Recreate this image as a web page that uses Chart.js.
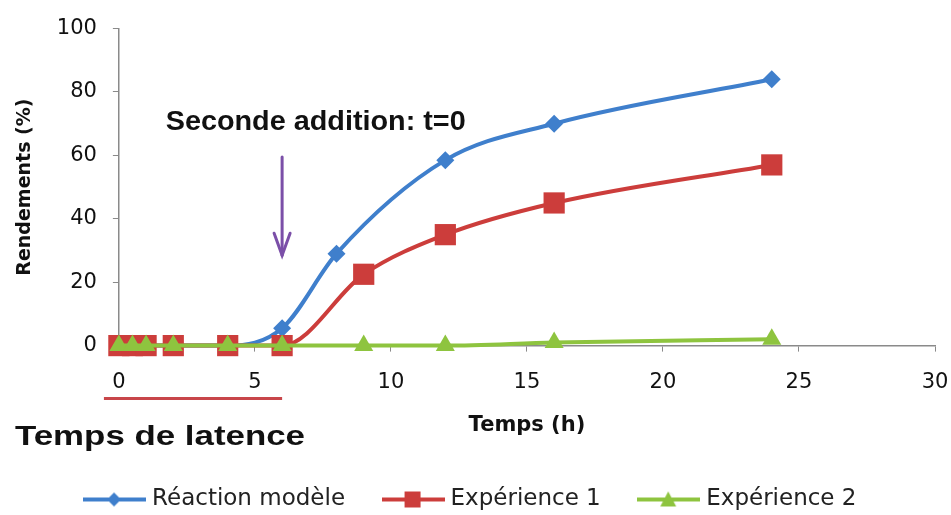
<!DOCTYPE html>
<html>
<head>
<meta charset="utf-8">
<script src="https://cdn.jsdelivr.net/npm/chart.js@4/dist/chart.umd.min.js"></script>
<style>
  html, body { margin: 0; padding: 0; background: #fff; }
  #wrap { width: 951px; height: 515px; position: relative; }
</style>
</head>
<body>
<div id="wrap"><canvas id="chart"></canvas></div>
<script>
// time points (h) and yields (%)
const tModele = [0, 0.5, 1, 2, 4, 6, 8, 12, 16, 24];
const yModele = [0, 0, 0, 0, 0, 5.5, 29, 58.5, 70, 84];
const tExp1 = [0, 0.5, 1, 2, 4, 6, 9, 12, 16, 24];
const yExp1 = [0, 0, 0, 0, 0, 0, 22.5, 35, 45, 57];
const tExp2 = [0, 0.5, 1, 2, 4, 6, 9, 12, 16, 24];
const yExp2 = [0, 0, 0, 0, 0, 0, 0, 0, 1, 2];

const seriesNames = ['Réaction modèle', 'Expérience 1', 'Expérience 2'];
const colors = ['#3f7fcc', '#cc3d3b', '#8ec43f'];

const FONT = '"DejaVu Sans", sans-serif';
const BOLD = '"Liberation Sans", Arial, sans-serif';

function pts(xs, ys) { return xs.map((x, i) => ({ x, y: ys[i] })); }

// legend swatch: line with the marker in the middle
function swatch(color, style) {
    const c = document.createElement('canvas');
    c.width = 63; c.height = 20;
    const g = c.getContext('2d');
    g.strokeStyle = color; g.lineWidth = 4;
    g.beginPath(); g.moveTo(0, 10); g.lineTo(63, 10); g.stroke();
    g.fillStyle = color;
    g.beginPath();
    if (style === 'rectRot') { g.moveTo(31, 3); g.lineTo(38, 10); g.lineTo(31, 17); g.lineTo(24, 10); }
    else if (style === 'rect') { g.rect(23, 2, 16, 16); }
    else { g.moveTo(31, 2); g.lineTo(39, 17); g.lineTo(23, 17); }
    g.closePath(); g.fill();
    return c;
}

// bold text squeezed/stretched to a given width
function wideText(ctx, text, left, cy, width) {
    const w = ctx.measureText(text).width;
    ctx.save();
    ctx.translate(left, cy);
    ctx.scale(width / w, 1);
    ctx.fillText(text, 0, 0);
    ctx.restore();
}

const annotations = {
    id: 'annotations',
    afterDatasetsDraw(chart) {
        const { ctx, scales: { x, y }, chartArea } = chart;
        ctx.save();
        ctx.font = 'bold 27px ' + BOLD;
        ctx.fillStyle = '#111';
        ctx.textBaseline = 'middle';
        ctx.textAlign = 'left';
        wideText(ctx, 'Seconde addition: t=0', x.getPixelForValue(1.72), y.getPixelForValue(70.5), 300);
        // purple arrow at t = 6 h
        const ax = x.getPixelForValue(6);
        const y0 = y.getPixelForValue(59.5), y1 = y.getPixelForValue(28.5);
        ctx.strokeStyle = '#7b4fa8'; ctx.lineWidth = 3; ctx.lineCap = 'round';
        ctx.beginPath(); ctx.moveTo(ax, y0); ctx.lineTo(ax, y1); ctx.stroke();
        ctx.beginPath(); ctx.moveTo(ax - 8, y1 - 22); ctx.lineTo(ax, y1); ctx.lineTo(ax + 8, y1 - 22); ctx.stroke();
        // latency period underline
        const by = chartArea.bottom + 53;
        ctx.strokeStyle = '#c8464a'; ctx.lineWidth = 3; ctx.lineCap = 'butt';
        ctx.beginPath(); ctx.moveTo(x.getPixelForValue(-0.55), by); ctx.lineTo(ax, by); ctx.stroke();
        wideText(ctx, 'Temps de latence', 15, by + 39, 290);
        ctx.restore();
    }
};

const styles = ['rectRot', 'rect', 'triangle'];
const radii = [9, 15, 11];
const data = [pts(tModele, yModele), pts(tExp1, yExp1), pts(tExp2, yExp2)];

new Chart(document.getElementById('chart'), {
    type: 'line',
    data: {
        datasets: data.map((d, i) => ({
            label: seriesNames[i],
            data: d,
            borderColor: colors[i],
            backgroundColor: colors[i],
            borderWidth: 4,
            tension: 0.4,
            cubicInterpolationMode: 'monotone',
            pointStyle: styles[i],
            pointRadius: radii[i],
            pointBorderWidth: 0,
            clip: false,
            order: 3 - i,
        })),
    },
    options: {
        responsive: true, maintainAspectRatio: false, animation: false,
        layout: { padding: { top: 16, right: 16, left: 10, bottom: -6 } },
        plugins: {
            legend: {
                position: 'bottom',
                labels: {
                    font: { family: FONT, size: 23 }, color: '#222',
                    usePointStyle: true, pointStyleWidth: 52, padding: 42,
                    generateLabels: chart => chart.data.datasets.map((ds, i) => ({
                        text: ds.label, pointStyle: swatch(colors[i], styles[i]),
                        datasetIndex: i, fontColor: '#222', lineWidth: 0,
                    })),
                },
            },
            tooltip: { enabled: false },
        },
        scales: {
            x: {
                type: 'linear', min: 0, max: 30,
                // let the "30" label run into the right margin, like the original
                afterFit: scale => { scale.paddingRight = 0; },
                ticks: { stepSize: 5, color: '#111', padding: 18, font: { family: FONT, size: 21 } },
                grid: { drawOnChartArea: false, drawTicks: true, tickLength: 6, color: '#8a8a8a' },
                border: { color: '#8a8a8a', width: 1.5 },
                title: { display: true, text: 'Temps (h)', color: '#111', padding: { top: 0, bottom: 8 }, font: { family: FONT, size: 21, weight: 'bold' } },
            },
            y: {
                min: 0, max: 100,
                ticks: { stepSize: 20, color: '#111', padding: 16, font: { family: FONT, size: 21 } },
                grid: { drawOnChartArea: false, drawTicks: true, tickLength: 6, color: '#8a8a8a' },
                border: { color: '#8a8a8a', width: 1.5 },
                title: { display: true, text: 'Rendements (%)', color: '#111', padding: 4, font: { family: FONT, size: 19, weight: 'bold' } },
            },
        },
    },
    plugins: [annotations],
});
</script>
</body>
</html>
